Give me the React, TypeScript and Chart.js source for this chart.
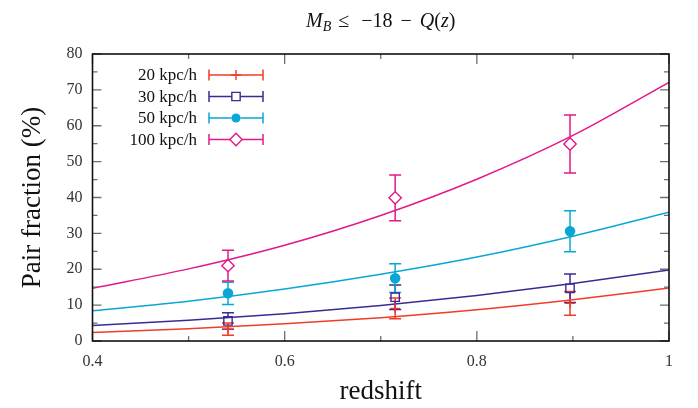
import React, { useEffect, useRef } from 'react';
import { Chart, registerables } from 'chart.js';

Chart.register(...registerables);

const SERIF = '"Liberation Serif", "Times New Roman", serif';

// ---- data ----
const zPoints = [0.541, 0.715, 0.897];
const seriesLabels = ['20 kpc/h', '30 kpc/h', '50 kpc/h', '100 kpc/h'];
const seriesColors = ['#f23c28', '#3b2a93', '#0aa6d6', '#e2198a'];
const frac20 = [3.3, 9.1, 10.5];
const err20 = [1.7, 2.9, 3.3];
const frac30 = [5.6, 12.2, 14.7];
const err30 = [2.3, 3.4, 4.0];
const frac50 = [13.3, 17.5, 30.6];
const err50 = [3.1, 4.0, 5.7];
const frac100 = [21.0, 39.9, 54.9];
const err100 = [4.3, 6.4, 8.1];

const fitZ = [0.4, 0.5, 0.6, 0.7, 0.8, 0.9, 1.0];
const fit20 = [2.4, 3.4, 4.8, 6.5, 8.7, 11.5, 14.8];
const fit30 = [4.3, 5.8, 7.6, 9.9, 12.7, 16.0, 19.8];
const fit50 = [8.4, 11.1, 14.5, 18.6, 23.4, 29.2, 35.9];
const fit100 = [14.7, 20.1, 26.7, 35.0, 45.1, 57.3, 72.1];

const xMajorTicks = [0.4, 0.6, 0.8, 1.0];
const xTickLabels = ['0.4', '0.6', '0.8', '1'];
const xMinorTicks = [0.5, 0.7, 0.9];
const yMajorTicks = [0, 10, 20, 30, 40, 50, 60, 70, 80];
const yMinorTicks = [5, 15, 25, 35, 45, 55, 65, 75];

const markerStyles = ['cross', 'rect', 'circle', 'rectRot'];
const markerRadius = [5, 5.9, 4.6, 6.2];

const values = [frac20, frac30, frac50, frac100];
const errors = [err20, err30, err50, err100];
const fits = [fit20, fit30, fit50, fit100];

function gapFor(style: string, r: number) {
  if (style === 'rect') return r * Math.SQRT1_2;
  if (style === 'rectRot') return r;
  if (style === 'circle') return r;
  return 0;
}

function drawMarker(ctx: CanvasRenderingContext2D, style: string, x: number, y: number, r: number, color: string) {
  ctx.save();
  ctx.strokeStyle = color;
  ctx.fillStyle = color;
  ctx.lineWidth = 1.4;
  ctx.beginPath();
  if (style === 'cross') {
    ctx.moveTo(x - r, y); ctx.lineTo(x + r, y);
    ctx.moveTo(x, y - r); ctx.lineTo(x, y + r);
    ctx.stroke();
  } else if (style === 'rect') {
    const s = r * Math.SQRT1_2;
    ctx.rect(x - s, y - s, 2 * s, 2 * s);
    ctx.stroke();
  } else if (style === 'circle') {
    ctx.arc(x, y, r, 0, Math.PI * 2);
    ctx.fill();
  } else {
    ctx.moveTo(x - r, y); ctx.lineTo(x, y - r); ctx.lineTo(x + r, y); ctx.lineTo(x, y + r);
    ctx.closePath();
    ctx.stroke();
  }
  ctx.restore();
}

const decorPlugin = {
  id: 'decor',
  beforeDatasetsDraw(chart: any) {
    const ctx: CanvasRenderingContext2D = chart.ctx;
    const xs = chart.scales.x;
    const ys = chart.scales.y;
    const cap = 6;
    ctx.save();
    ctx.lineWidth = 1.5;
    values.forEach((vals, s) => {
      ctx.strokeStyle = seriesColors[s];
      const g = gapFor(markerStyles[s], markerRadius[s]);
      vals.forEach((v, i) => {
        const px = xs.getPixelForValue(zPoints[i]);
        const py = ys.getPixelForValue(v);
        const top = ys.getPixelForValue(v + errors[s][i]);
        const bot = ys.getPixelForValue(v - errors[s][i]);
        ctx.beginPath();
        ctx.moveTo(px, top); ctx.lineTo(px, py - g);
        ctx.moveTo(px, py + g); ctx.lineTo(px, bot);
        ctx.moveTo(px - cap, top); ctx.lineTo(px + cap, top);
        ctx.moveTo(px - cap, bot); ctx.lineTo(px + cap, bot);
        ctx.stroke();
      });
    });
    ctx.restore();
  },
  afterDraw(chart: any) {
    const ctx: CanvasRenderingContext2D = chart.ctx;
    const { left, right, top, bottom } = chart.chartArea;
    const xs = chart.scales.x;
    const ys = chart.scales.y;
    ctx.save();
    // ticks
    ctx.strokeStyle = '#6e6e6e';
    ctx.lineWidth = 1.3;
    ctx.beginPath();
    const xt = (v: number, len: number) => {
      const px = xs.getPixelForValue(v);
      ctx.moveTo(px, bottom); ctx.lineTo(px, bottom - len);
      ctx.moveTo(px, top); ctx.lineTo(px, top + len);
    };
    const yt = (v: number, len: number) => {
      const py = ys.getPixelForValue(v);
      ctx.moveTo(left, py); ctx.lineTo(left + len, py);
      ctx.moveTo(right, py); ctx.lineTo(right - len, py);
    };
    xMajorTicks.forEach((v) => xt(v, 10));
    xMinorTicks.forEach((v) => xt(v, 5));
    yMajorTicks.forEach((v) => yt(v, 9));
    yMinorTicks.forEach((v) => yt(v, 5));
    ctx.stroke();
    // frame
    ctx.strokeStyle = '#111';
    ctx.lineWidth = 1.6;
    ctx.strokeRect(left, top, right - left, bottom - top);

    // legend
    const lx0 = left + 104.5;
    const sx0 = left + 116.5;
    const sx1 = left + 170.5;
    const ly0 = top + 21;
    const dy = 21.5;
    ctx.font = `17px ${SERIF}`;
    ctx.textAlign = 'right';
    ctx.textBaseline = 'middle';
    seriesLabels.forEach((lab, s) => {
      const y = ly0 + s * dy;
      ctx.fillStyle = '#111';
      ctx.fillText(lab, lx0, y + 1);
      const mx = (sx0 + sx1) / 2;
      const g = gapFor(markerStyles[s], markerRadius[s]);
      ctx.strokeStyle = seriesColors[s];
      ctx.lineWidth = 1.5;
      ctx.beginPath();
      ctx.moveTo(sx0, y); ctx.lineTo(mx - g, y);
      ctx.moveTo(mx + g, y); ctx.lineTo(sx1, y);
      ctx.moveTo(sx0, y - 5.5); ctx.lineTo(sx0, y + 5.5);
      ctx.moveTo(sx1, y - 5.5); ctx.lineTo(sx1, y + 5.5);
      ctx.stroke();
      drawMarker(ctx, markerStyles[s], mx, y, markerRadius[s], seriesColors[s]);
    });

    // title: M_B <= -18 - Q(z)
    const cx = (left + right) / 2;
    const base = 27;
    const pieces: [string, string, number, number][] = [
      ['M', `italic 20px ${SERIF}`, 0, 0],
      ['B', `italic 14px ${SERIF}`, 4, 7],
      ['\u2264', `20px ${SERIF}`, 0, 12],
      ['\u221218', `20px ${SERIF}`, 0, 8],
      ['\u2212', `20px ${SERIF}`, 0, 8],
      ['Q', `italic 20px ${SERIF}`, 0, 0],
      ['(', `20px ${SERIF}`, 0, 0],
      ['z', `italic 20px ${SERIF}`, 0, 0],
      [')', `20px ${SERIF}`, 0, 0],
    ];
    let total = 0;
    const widths: number[] = [];
    pieces.forEach(([t, f, , gap]) => {
      ctx.font = f;
      const w = ctx.measureText(t).width;
      widths.push(w);
      total += w + gap;
    });
    let x = cx - total / 2;
    ctx.textAlign = 'left';
    ctx.textBaseline = 'alphabetic';
    ctx.fillStyle = '#111';
    pieces.forEach(([t, f, dyOff, gap], i) => {
      ctx.font = f;
      ctx.fillText(t, x, base + dyOff);
      x += widths[i] + gap;
    });
    ctx.restore();
  },
};

export default function App() {
  const canvasRef = useRef<HTMLCanvasElement | null>(null);

  useEffect(() => {
    if (!canvasRef.current) return;
    const datasets: any[] = [];
    fits.forEach((fit, s) => {
      datasets.push({
        label: seriesLabels[s] + ' fit',
        data: fitZ.map((z, i) => ({ x: z, y: fit[i] })),
        borderColor: seriesColors[s],
        borderWidth: 1.5,
        pointRadius: 0,
        fill: false,
        cubicInterpolationMode: 'monotone',
        order: 2,
      });
    });
    values.forEach((vals, s) => {
      datasets.push({
        label: seriesLabels[s],
        data: zPoints.map((z, i) => ({ x: z, y: vals[i] })),
        showLine: false,
        pointStyle: markerStyles[s],
        pointRadius: markerRadius[s],
        pointHoverRadius: markerRadius[s],
        pointBorderWidth: 1.4,
        pointBorderColor: seriesColors[s],
        pointBackgroundColor: markerStyles[s] === 'circle' ? seriesColors[s] : 'rgba(0,0,0,0)',
        borderColor: seriesColors[s],
        order: 1,
      });
    });

    const chart = new Chart(canvasRef.current, {
      type: 'line',
      data: { datasets },
      options: {
        animation: false,
        responsive: false,
        devicePixelRatio: 1,
        layout: { padding: { top: 54, right: 29, bottom: 0, left: 0 } },
        plugins: {
          legend: { display: false },
          tooltip: { enabled: false },
          title: { display: false },
        },
        scales: {
          x: {
            type: 'linear',
            min: 0.4,
            max: 1.0,
            grid: { display: false, drawTicks: false },
            border: { display: false },
            afterBuildTicks: (scale: any) => {
              scale.ticks = xMajorTicks.map((v) => ({ value: v }));
            },
            afterFit: (scale: any) => {
              scale.height = 67;
            },
            ticks: {
              padding: 11,
              color: '#333',
              font: { family: SERIF, size: 16 },
              callback: (v: any) => {
                const idx = xMajorTicks.findIndex((t) => Math.abs(t - Number(v)) < 1e-6);
                return idx >= 0 ? xTickLabels[idx] : '';
              },
            },
            title: {
              display: true,
              text: 'redshift',
              color: '#111',
              font: { family: SERIF, size: 27 },
              padding: { top: 0, bottom: 0 },
            },
          },
          y: {
            type: 'linear',
            min: 0,
            max: 80,
            grid: { display: false, drawTicks: false },
            border: { display: false },
            afterBuildTicks: (scale: any) => {
              scale.ticks = yMajorTicks.map((v) => ({ value: v }));
            },
            afterFit: (scale: any) => {
              scale.width = 92.5;
            },
            ticks: {
              padding: 10,
              color: '#333',
              font: { family: SERIF, size: 16 },
            },
            title: {
              display: true,
              text: 'Pair fraction (%)',
              color: '#111',
              font: { family: SERIF, size: 27 },
              padding: { top: 17, bottom: 0 },
            },
          },
        },
      } as any,
      plugins: [decorPlugin as any],
    });
    return () => chart.destroy();
  }, []);

  return (
    <div style={{ position: 'fixed', left: 0, top: 0, width: 698, height: 408, background: '#fff' }}>
      <canvas ref={canvasRef} width={698} height={408} style={{ display: 'block' }} />
    </div>
  );
}
